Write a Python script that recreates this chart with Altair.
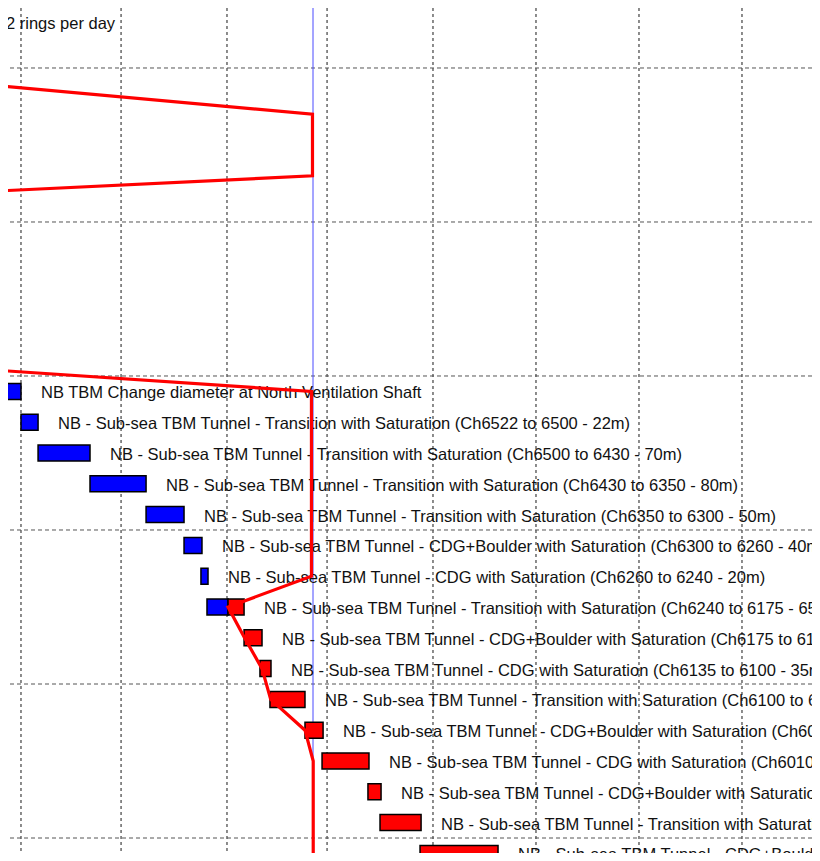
import altair as alt
import pandas as pd

# ---- data (x in days, y in row index) ----
rows = list(range(16))
labels = [
    "NB TBM Change diameter at North Ventilation Shaft",
    "NB - Sub-sea TBM Tunnel - Transition with Saturation (Ch6522 to 6500 - 22m)",
    "NB - Sub-sea TBM Tunnel - Transition with Saturation (Ch6500 to 6430 - 70m)",
    "NB - Sub-sea TBM Tunnel - Transition with Saturation (Ch6430 to 6350 - 80m)",
    "NB - Sub-sea TBM Tunnel - Transition with Saturation (Ch6350 to 6300 - 50m)",
    "NB - Sub-sea TBM Tunnel - CDG+Boulder with Saturation (Ch6300 to 6260 - 40m)",
    "NB - Sub-sea TBM Tunnel - CDG with Saturation (Ch6260 to 6240 - 20m)",
    "NB - Sub-sea TBM Tunnel - Transition with Saturation (Ch6240 to 6175 - 65m)",
    "NB - Sub-sea TBM Tunnel - CDG+Boulder with Saturation (Ch6175 to 6135 - 40m)",
    "NB - Sub-sea TBM Tunnel - CDG with Saturation (Ch6135 to 6100 - 35m)",
    "NB - Sub-sea TBM Tunnel - Transition with Saturation (Ch6100 to 6050 - 50m)",
    "NB - Sub-sea TBM Tunnel - CDG+Boulder with Saturation (Ch6050 to 6010 - 40m)",
    "NB - Sub-sea TBM Tunnel - CDG with Saturation (Ch6010 to 5870 - 140m)",
    "NB - Sub-sea TBM Tunnel - CDG+Boulder with Saturation (Ch5870 to 5840 - 30m)",
    "NB - Sub-sea TBM Tunnel - Transition with Saturation (Ch5840 to 5785 - 55m)",
    "NB - Sub-sea TBM Tunnel - CDG+Boulder with Saturation (Ch5785 to 5615 - 170m)",
]
starts = [-1.29, 0.00, 1.16, 4.69, 8.50, 11.08, 12.23, 12.64, 15.16, 16.24,
          16.92, 19.30, 20.46, 23.58, 24.40, 27.12]
ends = [0.00, 1.16, 4.69, 8.50, 11.08, 12.30, 12.71, 15.16, 16.38, 16.99,
        19.30, 20.53, 23.65, 24.47, 27.19, 32.42]
done = [0.00, 1.16, 4.69, 8.50, 11.08, 12.30, 12.71, 14.07, 15.16, 16.24,
        16.92, 19.30, 20.46, 23.58, 24.40, 27.12]

note_rows = [-12]
note_ends = [-2.38]
note_texts = ["2 rings per day"]

today = [19.845]

prog_days = [-1.43, 19.81, 19.81, -1.43, -4.0, -1.43, 19.74, 19.74, 14.07,
             15.19, 16.38, 16.97, 19.30, 19.86, 19.86]
prog_rows = [-9.92, -9.0, -7.0, -6.51, -3.6, -0.68, 0.0, 6.0, 7.0,
             8.0, 9.0, 10.0, 11.0, 12.0, 15.8]

grid_x = [0, 6.8, 14, 20.8, 28, 35, 42, 49]
grid_y = [-10.5, -5.5, -0.5, 4.5, 9.5, 14.5]

# ---- tables ----
segs = []
for r, s, e, d in zip(rows, starts, ends, done):
    if d > s:
        segs.append({"row": r, "x0": s, "x1": min(d, e), "status": "done"})
    if e > d:
        segs.append({"row": r, "x0": max(s, d), "x1": e, "status": "todo"})
seg_df = pd.DataFrame(segs)

lab_df = pd.DataFrame({"row": rows + note_rows, "end": ends + note_ends,
                       "label": labels + note_texts})
today_df = pd.DataFrame({"day": today})
prog_df = pd.DataFrame({"day": prog_days, "row": prog_rows,
                        "seq": list(range(len(prog_days)))})
gx_df = pd.DataFrame({"day": grid_x})
gy_df = pd.DataFrame({"row": grid_y})

xscale = alt.Scale(domain=[-0.8835, 53.758], nice=False, zero=False)
yscale = alt.Scale(domain=[-12.448, 14.987], nice=False, zero=False, reverse=True)

vgrid = alt.Chart(gx_df).mark_rule(color="#1a1a1a", strokeWidth=1,
                                   strokeDash=[3, 3]).encode(
    x=alt.X("day:Q", scale=xscale, axis=None))
hgrid = alt.Chart(gy_df).mark_rule(color="#555555", strokeWidth=1,
                                   strokeDash=[4, 3]).encode(
    y=alt.Y("row:Q", scale=yscale, axis=None))

today_rule = alt.Chart(today_df).mark_rule(color="#4a4aff", strokeWidth=1).encode(
    x=alt.X("day:Q", scale=xscale, axis=None))

bars = alt.Chart(seg_df).transform_calculate(
    y0="datum.row - 0.26", y1="datum.row + 0.26"
).mark_rect(stroke="black", strokeWidth=1.5, clip=True).encode(
    x=alt.X("x0:Q", scale=xscale, axis=None),
    x2="x1:Q",
    y=alt.Y("y0:Q", scale=yscale, axis=None),
    y2="y1:Q",
    color=alt.Color("status:N", scale=alt.Scale(domain=["done", "todo"],
                                                range=["#0000ff", "#ff0000"]),
                    legend=None),
)

texts = alt.Chart(lab_df).mark_text(align="left", baseline="middle", dx=20,
                                    dy=2, fontSize=16.5, font="Liberation Sans",
                                    color="#111111").encode(
    x=alt.X("end:Q", scale=xscale, axis=None),
    y=alt.Y("row:Q", scale=yscale, axis=None),
    text="label:N",
)

prog = alt.Chart(prog_df).mark_line(color="#ff0000", strokeWidth=3.2,
                                    clip=True).encode(
    x=alt.X("day:Q", scale=xscale, axis=None),
    y=alt.Y("row:Q", scale=yscale, axis=None),
    order="seq:Q",
)

chart = alt.layer(vgrid, hgrid, today_rule, bars, texts, prog).properties(
    width=804, height=845, padding=0, autosize=alt.AutoSizeParams(type="none")
).configure_view(strokeWidth=0)

chart.save("out.html", embed_options={"renderer": "svg", "actions": False})
